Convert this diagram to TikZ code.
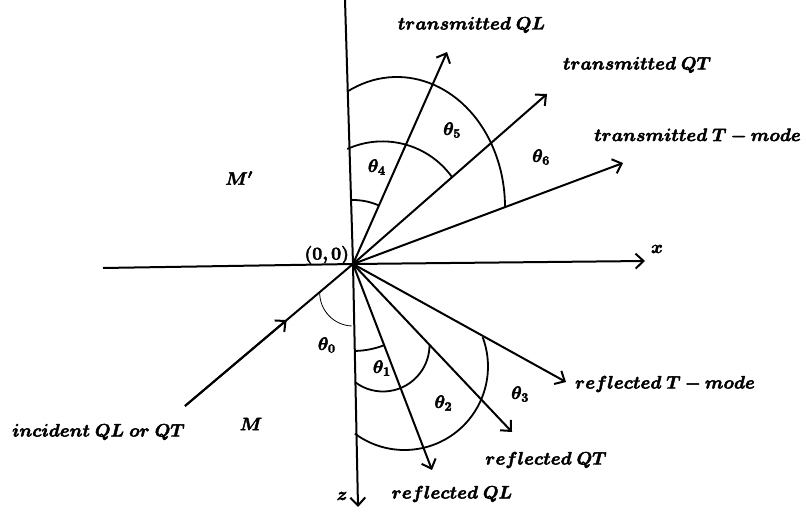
\RequirePackage{fix-cm}
\documentclass[tikz,border=0pt]{standalone}
\usepackage{bm}
\usetikzlibrary{arrows.meta,calc}
\tikzset{
  axisline/.style={line width=2pt},
  rayarrow/.style={line width=2pt,-{Straight Barb[length=8pt,width=15pt]}},
  anglearc/.style={line width=1.8pt},
  thinarc/.style={line width=0.8pt},
  lbl/.style={font=\fontsize{18}{21}\selectfont,inner sep=0pt,
    execute at begin node={\special{pdf:code 2 Tr 0.45 w}},
    execute at end node={\special{pdf:code 0 Tr}}}
}
\begin{document}
\begin{tikzpicture}[x=1pt,y=-1pt]
\useasboundingbox (0,0) rectangle (806,513);
% key points
\coordinate (O) at (353,264);
\coordinate (Ztop) at (345,0);
\coordinate (Zbot) at (358,507);
\coordinate (Xleft) at (103,268);
\coordinate (Xright) at (645,261);
\coordinate (TQL) at (447,52);
\coordinate (TQT) at (547,94);
\coordinate (TT) at (623,163);
\coordinate (RQL) at (432,470);
\coordinate (RQT) at (512,432);
\coordinate (RT) at (566,382);
\coordinate (Inc) at (185,406);
% axes
\draw[axisline] (Ztop) -- (O);
\draw[rayarrow] (O) -- (Zbot);
\draw[axisline] (Xleft) -- (O);
\draw[rayarrow] (O) -- (Xright);
% incident ray
\draw[axisline] (Inc) -- (O);
\draw[rayarrow] (Inc) -- ($(Inc)!0.605!(O)$);
% transmitted rays
\draw[rayarrow] (O) -- (TQL);
\draw[rayarrow] (O) -- (TQT);
\draw[rayarrow] (O) -- (TT);
% reflected rays
\draw[rayarrow] (O) -- (RQL);
\draw[rayarrow] (O) -- (RQT);
\draw[rayarrow] (O) -- (RT);
% upper angle arcs (y axis points down, so angles are mirrored)
\draw[anglearc] (O) ++(-91.7:64) arc[start angle=-91.7,end angle=-66.1,radius=64];
\draw[anglearc] (382.5,227) ++(-114.3:85.6) arc[start angle=-114.3,end angle=-36,radius=85.6];
\draw[anglearc] (397,207) ++(-117.6:108 and 130) arc[start angle=-117.6,end angle=0,x radius=108,y radius=130];
% lower angle arcs
\draw[anglearc] (O) ++(88.8:87) arc[start angle=88.8,end angle=69.1,radius=87];
\draw[anglearc] (383,345) ++(127:46.5) arc[start angle=127,end angle=0,radius=46.5];
\draw[anglearc] (404.5,366.5) ++(126.5:83.5) arc[start angle=126.5,end angle=-20.6,radius=83.5];
\draw[thinarc] (353,292.7) ++(-179:33.3) arc[start angle=-179,end angle=-267.6,radius=33.3];
% labels
\node[lbl] (lTQL) at (471.5,25) {$\bm{transmitted\;QL}$};
\node[lbl] (lTQT) at (637,65) {$\bm{transmitted\;QT}$};
\node[lbl] (lTT) at (697.5,136) {$\bm{transmitted\;T-mode}$};
\node[lbl] (lRT) at (665,384) {$\bm{reflected\;T-mode}$};
\node[lbl] (lRQT) at (546,460) {$\bm{reflected\;QT}$};
\node[lbl] (lRQL) at (452,494) {$\bm{reflected\;QL}$};
\node[lbl] (lInc) at (98.5,432) {$\bm{incident\;QL\;or\;QT}$};
\node[lbl] (lMp) at (239,178) {$\bm{M'}$};
\node[lbl] (lM) at (251,424) {$\bm{M}$};
\node[lbl] (lO) at (326.7,255) {$\bm{(0,0)}$};
\node[lbl] (lx) at (657,249) {$\bm{x}$};
\node[lbl] (lz) at (342,496) {$\bm{z}$};
\node[lbl] (t0) at (326.7,345) {$\bm{\theta_0}$};
\node[lbl] (t1) at (381.7,368) {$\bm{\theta_1}$};
\node[lbl] (t2) at (443.3,403) {$\bm{\theta_2}$};
\node[lbl] (t3) at (520,394) {$\bm{\theta_3}$};
\node[lbl] (t4) at (376.7,167) {$\bm{\theta_4}$};
\node[lbl] (t5) at (452,130) {$\bm{\theta_5}$};
\node[lbl] (t6) at (541,157) {$\bm{\theta_6}$};
\end{tikzpicture}
\end{document}
